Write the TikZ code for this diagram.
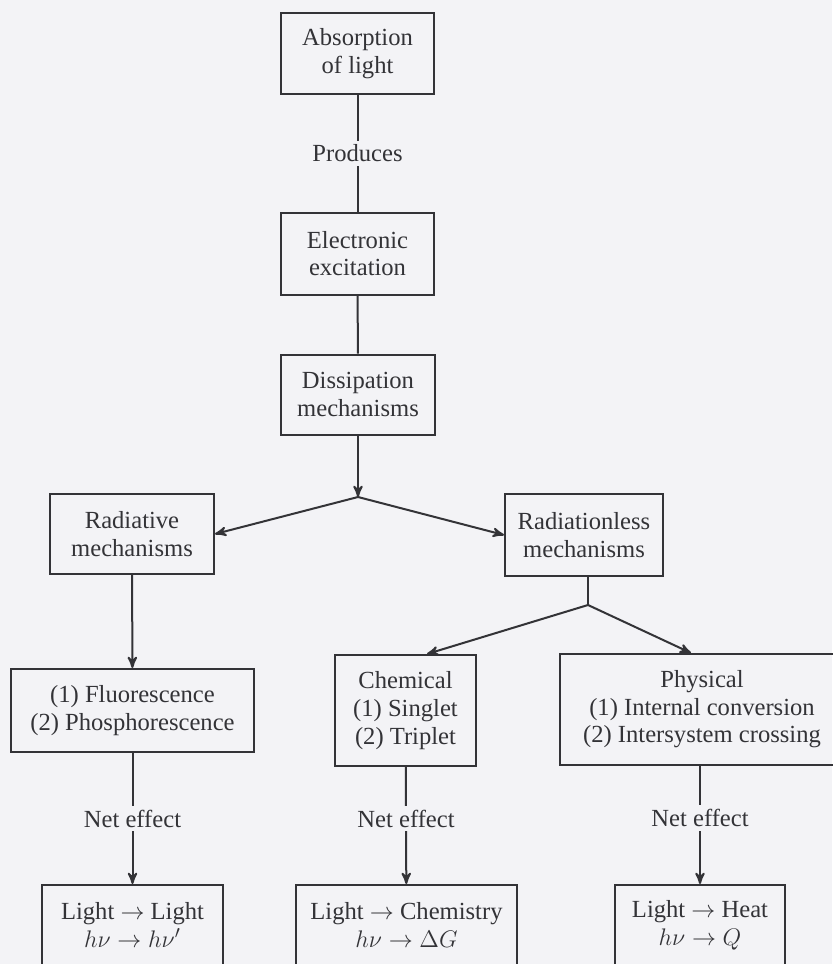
\documentclass[tikz,border=0pt]{standalone}
\usepackage{fontspec}
\setmainfont{Liberation Serif}
\usetikzlibrary{arrows}
\definecolor{paper}{HTML}{F3F3F6}
\definecolor{ink}{HTML}{333337}

\begin{document}
\begin{tikzpicture}[x=0.5pt,y=-0.5pt,>=stealth',line width=1pt,draw=ink,
                    font=\fontsize{12.3}{13.8}\selectfont,
                    box/.style={rectangle,draw=ink,text=ink,align=center,inner sep=0pt},
                    label node/.style={fill=paper,text=ink,inner sep=2pt}]
  \fill[paper] (0,0) rectangle (832,964);
  \useasboundingbox (0,0) rectangle (832,964);
  \node[box,minimum width=76.5pt,minimum height=40.5pt] (absorb) at (357.5,53.5) {Absorption\\of light};
  \node[box,minimum width=76.5pt,minimum height=41pt] (excite) at (357.5,253.5) {Electronic\\excitation};
  \node[box,minimum width=77pt,minimum height=40pt] (dissip) at (358,394.5) {Dissipation\\mechanisms};
  \node[box,minimum width=82pt,minimum height=40pt] (rad) at (132,534) {Radiative\\mechanisms};
  \node[box,minimum width=79pt,minimum height=41pt] (radless) at (584,535) {Radiationless\\mechanisms};
  \node[box,minimum width=121.5pt,minimum height=41.5pt] (fluor) at (132.5,710.5) {(1) Fluorescence\\(2) Phosphorescence};
  \node[box,minimum width=70.5pt,minimum height=55.5pt] (chem) at (405.5,710.5) {Chemical\\(1) Singlet\\(2) Triplet};
  \node[box,minimum width=142pt,minimum height=55.5pt] (phys) at (702,709.5) {Physical\\(1) Internal conversion\\(2) Intersystem crossing};
  \node[box,minimum width=90.5pt,minimum height=40pt] (light) at (132.5,925) {Light $\rightarrow$ Light\\$h\nu\rightarrow h\nu'$};
  \node[box,minimum width=110.5pt,minimum height=40pt] (chemistry) at (406.5,925) {Light $\rightarrow$ Chemistry\\$h\nu\rightarrow \Delta G$};
  \node[box,minimum width=85pt,minimum height=40pt] (heat) at (700,925) {Light $\rightarrow$ Heat\\$h\nu\rightarrow Q$};
  \coordinate (split1) at (358,497);
  \coordinate (split2) at (588,605);
  % connectors
  \draw[ink] (absorb) -- node[label node] {Produces} (excite);
  \draw[ink] (excite) -- (dissip);
  \draw[ink,->] (dissip) -- (split1);
  \draw[ink,->] (split1) -- (rad.east);
  \draw[ink,->] (split1) -- (radless.west);
  \draw[ink,->] (rad) -- (fluor);
  \draw[ink] (radless.south -| split2) -- (split2);
  \draw[ink,->] (split2) -- (chem.north -| 427,0);
  \draw[ink,->] (split2) -- (phys.north -| 691,0);
  \draw[ink,->] (fluor) -- node[label node] {Net effect} (light);
  \draw[ink,->] (chem) -- node[label node,pos=0.44] {Net effect} (chemistry);
  \draw[ink,->] (phys.south -| heat) -- node[label node,pos=0.44] {Net effect} (heat);
\end{tikzpicture}
\end{document}
